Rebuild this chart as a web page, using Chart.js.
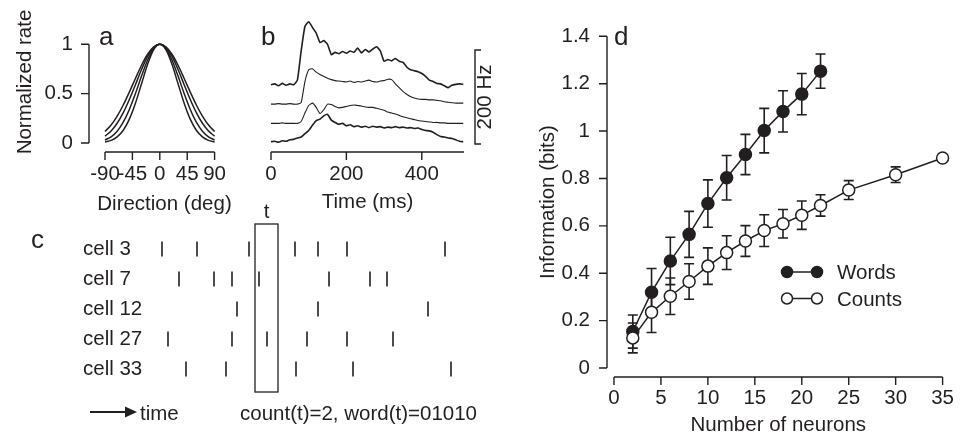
<!DOCTYPE html>
<html>
<head>
<meta charset="utf-8">
<script src="https://cdn.jsdelivr.net/npm/chart.js@4.4.1/dist/chart.umd.min.js"></script>
<style>
  html, body { margin: 0; padding: 0; background: #fff; }
  #wrap { position: relative; width: 972px; height: 438px; overflow: hidden; background: #fff; }
  #wrap canvas { position: absolute; }
</style>
</head>
<body>
<div id="wrap">
  <canvas id="tuningChart" width="245" height="215" style="left:0;top:0"></canvas>
  <canvas id="psthChart" width="260" height="215" style="left:240px;top:0"></canvas>
  <canvas id="rasterChart" width="500" height="243" style="left:0;top:195px"></canvas>
  <canvas id="infoChart" width="442" height="438" style="left:530px;top:0"></canvas>
</div>
<script>
const ink = "#231f20";
const fontFamily = "'Liberation Sans', Arial, Helvetica, sans-serif";
const textSize = 20.5;
const f20 = { family: fontFamily, size: textSize };

// a: tuning curves
const dirDeg = [-90, -80, -70, -60, -50, -40, -30, -20, -10, 0, 10, 20, 30, 40, 50, 60, 70, 80, 90];
const dirTicks = [-90, -45, 0, 45, 90];
const tuneWide = [0.117, 0.183, 0.273, 0.385, 0.516, 0.654, 0.788, 0.899, 0.974, 1, 0.974, 0.899, 0.788, 0.654, 0.516, 0.385, 0.273, 0.183, 0.117];
const tuneMid1 = [0.07, 0.122, 0.2, 0.307, 0.44, 0.591, 0.744, 0.877, 0.968, 1, 0.968, 0.877, 0.744, 0.591, 0.44, 0.307, 0.2, 0.122, 0.07];
const tuneMid2 = [0.03, 0.063, 0.12, 0.211, 0.34, 0.501, 0.678, 0.841, 0.958, 1, 0.958, 0.841, 0.678, 0.501, 0.34, 0.211, 0.12, 0.063, 0.03];
const tuneNarrow = [0.01, 0.026, 0.062, 0.129, 0.242, 0.403, 0.6, 0.797, 0.945, 1, 0.945, 0.797, 0.6, 0.403, 0.242, 0.129, 0.062, 0.026, 0.01];

// b: PSTH traces (rates already stacked for display, Hz)
const timeMs = [0, 10, 20, 30, 40, 50, 60, 70, 80, 90, 100, 110, 120, 130, 140, 150, 160, 170, 180, 190,
  200, 210, 220, 230, 240, 250, 260, 270, 280, 290, 300, 310, 320, 330, 340, 350, 360, 370, 380, 390,
  400, 410, 420, 430, 440, 450, 460, 470, 480, 490, 500, 510];
const trace1 = [128, 130, 126, 131, 127, 130, 128, 138, 200, 252, 262, 250, 238, 218, 222, 214, 192, 197, 194, 199,
  195, 200, 197, 206, 196, 203, 198, 204, 209, 200, 178, 182, 179, 184, 178, 176, 166, 160, 158, 156,
  152, 146, 138, 135, 131, 130, 126, 122, 127, 129, 130, 129];
const trace2 = [87, 87, 88, 87, 87, 88, 87, 87, 90, 135, 160, 162, 155, 150, 146, 142, 139, 137, 136, 135,
  134, 136, 133, 135, 134, 136, 138, 135, 134, 136, 137, 140, 139, 130, 122, 114, 108, 103, 100, 98,
  97, 97, 96, 96, 95, 94, 92, 91, 90, 89, 89, 89];
const trace3 = [46, 46, 46, 47, 46, 46, 46, 46, 50, 68, 84, 89, 80, 67, 75, 87, 86, 82, 79, 80,
  82, 84, 85, 84, 83, 81, 80, 80, 78, 76, 74, 70, 68, 66, 63, 60, 58, 56, 54, 52,
  51, 50, 49, 48, 48, 47, 47, 46, 46, 46, 46, 46];
const trace4 = [7, 8, 6, 9, 8, 11, 12, 15, 17, 24, 31, 42, 52, 55, 62, 65, 53, 48, 44, 46,
  41, 43, 39, 41, 38, 40, 37, 40, 38, 39, 36, 38, 37, 39, 37, 38, 36, 37, 35, 36,
  33, 31, 30, 27, 22, 18, 17, 15, 14, 11, 8, 7];
const timeTicks = [0, 200, 400];
const scaleBarHz = [2, 202];

// c: spike raster
const cellNames = ["cell 3", "cell 7", "cell 12", "cell 27", "cell 33"];
const spikesCell3 = [12, 47, 99, 145, 168, 197, 295];
const spikesCell7 = [29, 64, 82, 109, 179, 220, 237];
const spikesCell12 = [87, 168, 278];
const spikesCell27 = [18, 82, 117, 157, 197, 243];
const spikesCell33 = [36, 76, 146, 203, 301];
const countWindow = [105, 128];

// d: information vs number of neurons
const wordsN = [2, 4, 6, 8, 10, 12, 14, 16, 18, 20, 22];
const wordsBits = [0.154, 0.32, 0.452, 0.564, 0.694, 0.803, 0.901, 1.002, 1.083, 1.156, 1.253];
const wordsErr = [0.07, 0.1, 0.1, 0.097, 0.1, 0.094, 0.085, 0.094, 0.087, 0.087, 0.072];
const countsN = [2, 4, 6, 8, 10, 12, 14, 16, 18, 20, 22, 25, 30, 35];
const countsBits = [0.127, 0.235, 0.303, 0.365, 0.43, 0.487, 0.536, 0.58, 0.609, 0.645, 0.686, 0.751, 0.816, 0.886];
const countsErr = [0.063, 0.085, 0.077, 0.075, 0.077, 0.071, 0.065, 0.067, 0.06, 0.06, 0.045, 0.04, 0.033, 0];

const plainNumber = v => String(Number(Number(v).toFixed(2)));

// axes drawn a few pixels away from the plot area
function detachedAxes(cfg) {
  return {
    id: "detachedAxes",
    afterDraw(chart) {
      const { ctx, chartArea: area, scales } = chart;
      ctx.save();
      ctx.strokeStyle = ink;
      ctx.lineWidth = 1.4;
      ctx.beginPath();
      if (cfg.x) {
        const sx = scales.x;
        const y0 = area.bottom + cfg.x.gap;
        ctx.moveTo(sx.getPixelForValue(cfg.x.from), y0);
        ctx.lineTo(sx.getPixelForValue(cfg.x.to), y0);
        sx.ticks.forEach(t => {
          const px = sx.getPixelForValue(t.value);
          ctx.moveTo(px, y0);
          ctx.lineTo(px, y0 + 8);
        });
      }
      if (cfg.y) {
        const sy = scales.y;
        const x0 = area.left - cfg.y.gap;
        ctx.moveTo(x0, sy.getPixelForValue(cfg.y.from));
        ctx.lineTo(x0, sy.getPixelForValue(cfg.y.to));
        sy.ticks.forEach(t => {
          const py = sy.getPixelForValue(t.value);
          ctx.moveTo(x0, py);
          ctx.lineTo(x0 - 8, py);
        });
      }
      ctx.stroke();
      ctx.restore();
    }
  };
}

// free text: panel letters, titles wider than their plot, annotations
function panelText(items) {
  return {
    id: "panelText",
    afterDraw(chart) {
      const ctx = chart.ctx;
      items.forEach(it => {
        ctx.save();
        ctx.fillStyle = ink;
        ctx.font = (it.size || textSize) + "px " + fontFamily;
        ctx.textAlign = it.align || "left";
        ctx.textBaseline = it.baseline || "alphabetic";
        ctx.translate(it.x, it.y);
        if (it.rotate) ctx.rotate(it.rotate);
        ctx.fillText(it.text, 0, 0);
        ctx.restore();
      });
    }
  };
}

const baseOptions = {
  responsive: false,
  animation: false,
  events: [],
  plugins: { legend: { display: false }, tooltip: { enabled: false } }
};

// ---- panel a
new Chart(document.getElementById("tuningChart"), {
  type: "line",
  data: {
    datasets: [tuneWide, tuneMid1, tuneMid2, tuneNarrow].map(vals => ({
      data: dirDeg.map((d, i) => ({ x: d, y: vals[i] })),
      borderColor: ink,
      borderWidth: 1.5,
      pointRadius: 0,
      cubicInterpolationMode: "monotone",
      clip: false
    }))
  },
  options: {
    ...baseOptions,
    layout: { padding: { top: 23, right: 21, left: 0, bottom: 0 } },
    scales: {
      x: {
        type: "linear", min: -90, max: 90,
        grid: { display: false, drawTicks: false }, border: { display: false },
        afterBuildTicks: s => { s.ticks = dirTicks.map(v => ({ value: v })); },
        ticks: { color: ink, font: f20, padding: 19, autoSkip: false, maxRotation: 0, minRotation: 0 },
        afterFit: s => { s.height = 72; }
      },
      y: {
        min: 0, max: 1,
        grid: { display: false, drawTicks: false }, border: { display: false },
        ticks: { stepSize: 0.5, color: ink, font: f20, padding: 32, callback: plainNumber },
        afterFit: s => { s.width = 105; }
      }
    }
  },
  plugins: [
    detachedAxes({ x: { gap: 9, from: -90, to: 90 }, y: { gap: 16, from: 0, to: 1 } }),
    panelText([
      { text: "a", x: 99, y: 45, size: 26 },
      { text: "Direction (deg)", x: 164.5, y: 210, align: "center" },
      { text: "Normalized rate", x: 31, y: 82, align: "center", rotate: -Math.PI / 2 }
    ])
  ]
});

// ---- panel b
const traceWidths = [1.6, 1.1, 1.1, 1.6];
new Chart(document.getElementById("psthChart"), {
  type: "line",
  data: {
    datasets: [trace1, trace2, trace3, trace4].map((vals, k) => ({
      data: timeMs.map((t, i) => ({ x: t, y: vals[i] })),
      borderColor: ink,
      borderWidth: traceWidths[k],
      pointRadius: 0,
      tension: 0.15,
      clip: false
    }))
  },
  options: {
    ...baseOptions,
    layout: { padding: { top: 11, right: 36, left: 31, bottom: 0 } },
    scales: {
      x: {
        type: "linear", min: 0, max: 512,
        grid: { display: false, drawTicks: false }, border: { display: false },
        afterBuildTicks: s => { s.ticks = timeTicks.map(v => ({ value: v })); },
        ticks: { color: ink, font: f20, padding: 17, autoSkip: false, maxRotation: 0, minRotation: 0 },
        title: { display: true, text: "Time (ms)", color: ink, font: f20, padding: 0 },
        afterFit: s => { s.height = 70; }
      },
      y: { display: false, min: 0, max: 285 }
    }
  },
  plugins: [
    detachedAxes({ x: { gap: 7, from: 0, to: 512 } }),
    panelText([{ text: "b", x: 21, y: 45, size: 26 }]),
    {
      id: "scaleBar",
      afterDraw(chart) {
        const { ctx, scales: { y } } = chart;
        const x0 = 235;
        const yBot = y.getPixelForValue(scaleBarHz[0]);
        const yTop = y.getPixelForValue(scaleBarHz[1]);
        ctx.save();
        ctx.strokeStyle = ink;
        ctx.lineWidth = 1.4;
        ctx.beginPath();
        ctx.moveTo(x0 + 6, yTop);
        ctx.lineTo(x0, yTop);
        ctx.lineTo(x0, yBot);
        ctx.lineTo(x0 + 6, yBot);
        ctx.stroke();
        ctx.translate(245.5, (yTop + yBot) / 2);
        ctx.rotate(-Math.PI / 2);
        ctx.fillStyle = ink;
        ctx.font = textSize + "px " + fontFamily;
        ctx.textAlign = "center";
        ctx.textBaseline = "middle";
        ctx.fillText("200 Hz", 0, 0);
        ctx.restore();
      }
    }
  ]
});

// ---- panel c
const spikeTimes = [spikesCell3, spikesCell7, spikesCell12, spikesCell27, spikesCell33];
new Chart(document.getElementById("rasterChart"), {
  type: "scatter",
  data: {
    datasets: [{
      data: spikeTimes.flatMap((times, i) => times.map(t => ({ x: t, y: cellNames[i] }))),
      pointStyle: "line",
      rotation: 90,
      radius: 7.5,
      borderColor: ink,
      borderWidth: 1.6,
      clip: false
    }]
  },
  options: {
    ...baseOptions,
    layout: { padding: { top: 39, right: 40, left: 83, bottom: 54 } },
    scales: {
      x: { type: "linear", display: false, min: 0, max: 310 },
      y: {
        type: "category", labels: cellNames, offset: true,
        grid: { display: false, drawTicks: false }, border: { display: false },
        ticks: { color: ink, font: f20, padding: 0, crossAlign: "far" },
        afterFit: s => { s.width = 67; }
      }
    }
  },
  plugins: [
    panelText([
      { text: "c", x: 31, y: 53, size: 26 },
      { text: "time", x: 140, y: 225 },
      { text: "count(t)=2, word(t)=01010", x: 240, y: 225 }
    ]),
    {
      id: "countBox",
      afterDraw(chart) {
        const { ctx, scales: { x, y } } = chart;
        const left = x.getPixelForValue(countWindow[0]);
        const right = x.getPixelForValue(countWindow[1]);
        const top = y.getPixelForValue(0) - 25;
        const bottom = y.getPixelForValue(cellNames.length - 1) + 23;
        ctx.save();
        ctx.strokeStyle = ink;
        ctx.lineWidth = 1.3;
        ctx.strokeRect(left, top, right - left, bottom - top);
        ctx.fillStyle = ink;
        ctx.font = textSize + "px " + fontFamily;
        ctx.textAlign = "center";
        ctx.fillText("t", (left + right) / 2, top - 6);
        // time arrow
        ctx.lineWidth = 2;
        ctx.beginPath();
        ctx.moveTo(90, 217);
        ctx.lineTo(126, 217);
        ctx.stroke();
        ctx.beginPath();
        ctx.moveTo(125, 211.5);
        ctx.lineTo(137, 217);
        ctx.lineTo(125, 222.5);
        ctx.closePath();
        ctx.fill();
        ctx.restore();
      }
    }
  ]
});

// ---- panel d
const errByLabel = { Words: wordsErr, Counts: countsErr };
new Chart(document.getElementById("infoChart"), {
  type: "line",
  data: {
    datasets: [
      {
        label: "Counts",
        data: countsN.map((n, i) => ({ x: n, y: countsBits[i] })),
        borderColor: ink, borderWidth: 1.5,
        pointRadius: 6, pointBorderWidth: 1.5,
        pointBackgroundColor: "#fff", pointBorderColor: ink,
        clip: false
      },
      {
        label: "Words",
        data: wordsN.map((n, i) => ({ x: n, y: wordsBits[i] })),
        borderColor: ink, borderWidth: 1.5,
        pointRadius: 6, pointBorderWidth: 1.5,
        pointBackgroundColor: ink, pointBorderColor: ink,
        clip: false
      }
    ]
  },
  options: {
    ...baseOptions,
    layout: { padding: { top: 23, right: 13, left: 0, bottom: 0 } },
    scales: {
      x: {
        type: "linear", min: 0, max: 35,
        grid: { display: false, drawTicks: false }, border: { display: false },
        ticks: { stepSize: 5, color: ink, font: f20, padding: 18, autoSkip: false, maxRotation: 0, minRotation: 0 },
        title: { display: true, text: "Number of neurons", color: ink, font: f20, padding: 0 },
        afterFit: s => { s.height = 70; }
      },
      y: {
        min: 0, max: 1.4,
        grid: { display: false, drawTicks: false }, border: { display: false },
        ticks: { stepSize: 0.2, color: ink, font: f20, padding: 24, callback: plainNumber },
        title: { display: true, text: "Information (bits)", color: ink, font: f20, padding: { top: 6, bottom: 0 } },
        afterFit: s => { s.width = 84; }
      }
    }
  },
  plugins: [
    detachedAxes({ x: { gap: 9, from: 0, to: 35 }, y: { gap: 7, from: 0, to: 1.4 } }),
    panelText([
      { text: "d", x: 84, y: 45, size: 26 },
      { text: "Words", x: 307, y: 279 },
      { text: "Counts", x: 307, y: 306 }
    ]),
    {
      id: "errorBars",
      beforeDatasetsDraw(chart) {
        const { ctx, scales: { x, y } } = chart;
        ctx.save();
        ctx.strokeStyle = ink;
        ctx.lineWidth = 1.6;
        chart.data.datasets.forEach(ds => {
          const errs = errByLabel[ds.label];
          ds.data.forEach((p, i) => {
            const e = errs[i];
            if (!e) return;
            const px = x.getPixelForValue(p.x);
            const top = y.getPixelForValue(p.y + e);
            const bot = y.getPixelForValue(p.y - e);
            ctx.beginPath();
            ctx.moveTo(px, top); ctx.lineTo(px, bot);
            ctx.moveTo(px - 5, top); ctx.lineTo(px + 5, top);
            ctx.moveTo(px - 5, bot); ctx.lineTo(px + 5, bot);
            ctx.stroke();
          });
        });
        ctx.restore();
      }
    },
    {
      id: "pairLegend",
      afterDraw(chart) {
        const ctx = chart.ctx;
        const rows = [{ y: 272, fill: ink }, { y: 298.5, fill: "#fff" }];
        ctx.save();
        ctx.strokeStyle = ink;
        ctx.lineWidth = 1.5;
        rows.forEach(r => {
          ctx.beginPath();
          ctx.moveTo(257, r.y); ctx.lineTo(287, r.y);
          ctx.stroke();
          [257, 287].forEach(cx => {
            ctx.beginPath();
            ctx.arc(cx, r.y, 5.5, 0, Math.PI * 2);
            ctx.fillStyle = r.fill;
            ctx.fill();
            ctx.stroke();
          });
        });
        ctx.restore();
      }
    }
  ]
});
</script>
</body>
</html>
